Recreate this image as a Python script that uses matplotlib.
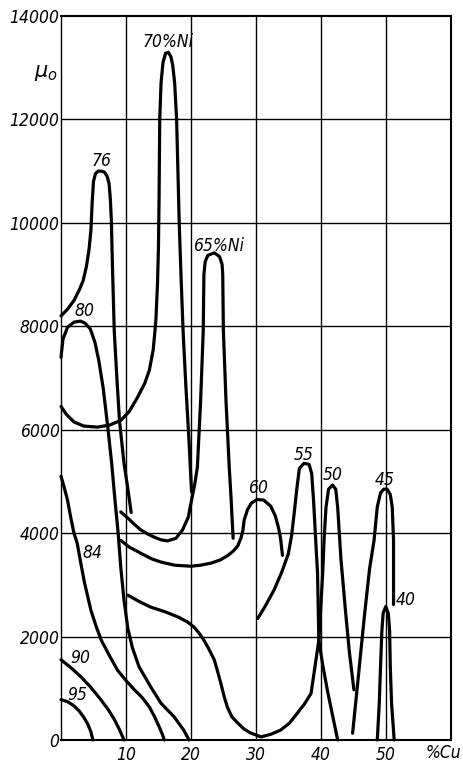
import matplotlib
matplotlib.use("Agg")
import matplotlib.pyplot as plt

# initial permeability mu_0 vs % Cu, one curve per Ni content
cu_95 = [0, 1, 2, 2.8, 3.5, 4.1, 4.6, 4.9]
mu_95 = [780, 740, 660, 560, 440, 310, 160, 0]

cu_90 = [0, 1.5, 3, 4.5, 6, 7.2, 8.2, 9.0, 9.7]
mu_90 = [1550, 1400, 1230, 1030, 800, 600, 400, 200, 0]

cu_84 = [0, 0.5, 1, 1.5, 2, 2.5, 3.0, 3.6, 4.6, 5.4, 6.2, 7.5, 8.7, 10, 11.3, 12.5,
         13.6, 14.4, 15.1, 15.6, 15.9]
mu_84 = [5100, 4880, 4640, 4300, 4000, 3800, 3450, 3050, 2510, 2200, 1930, 1620,
         1350, 1150, 970, 820, 640, 450, 260, 110, 0]

cu_80 = [0, 0.3, 1, 2, 3, 3.7, 4.5, 5.2, 5.8, 6.5, 7.2, 7.8, 8.3, 8.8, 9.2, 9.7,
         10.3, 11.0, 12.0, 13.8, 15.4, 17.4, 18.9, 19.7]
mu_80 = [7400, 7750, 7980, 8080, 8100, 8060, 7950, 7700, 7350, 6800, 6050, 5350,
         4650, 4000, 3340, 2700, 2150, 1780, 1420, 1030, 710, 450, 190, 0]

cu_76 = [0, 1, 2, 2.8, 3.4, 3.9, 4.3, 4.6, 4.8, 5.0, 5.3, 5.7, 6.2, 6.7, 7.1, 7.4,
         7.6, 7.75, 7.95, 8.2, 8.6, 9.0, 9.7, 10.3, 10.8]
mu_76 = [8200, 8330, 8500, 8700, 8880, 9150, 9470, 9850, 10400, 10800, 10950,
         11000, 11000, 10980, 10900, 10760, 10450, 10050, 9020, 7900, 7000, 6180,
         5350, 4850, 4400]

cu_70 = [0, 0.8, 2, 3.5, 5.6, 7.5, 9.2, 10.5, 11.8, 12.9, 13.6, 14.2, 14.6, 14.85,
         15.0, 15.1, 15.2, 15.4, 15.7, 16.1, 16.5, 16.9, 17.2, 17.5, 17.8, 18.0,
         18.2, 18.5, 18.8, 19.2, 19.7, 20.1]
mu_70 = [6450, 6300, 6150, 6070, 6050, 6090, 6180, 6350, 6630, 6900, 7150, 7550,
         8100, 8800, 9500, 10500, 12000, 12700, 13100, 13280, 13300, 13220, 13050,
         12700, 12000, 11000, 10000, 8900, 7900, 6900, 5800, 4800]

cu_65 = [9.2, 10.3, 11.3, 12.3, 13.4, 14.4, 15.4, 16.4, 17.7, 18.7, 19.6, 20.1,
         20.6, 21.0, 21.5, 21.9, 22.0, 22.2, 22.6, 23.6, 24.4, 24.8, 24.9, 25.0,
         25.4, 25.9, 26.2, 26.5]
mu_65 = [4410, 4290, 4170, 4060, 3980, 3920, 3870, 3850, 3900, 4060, 4310, 4640,
         4950, 5280, 6570, 7920, 9000, 9250, 9370, 9420, 9350, 9200, 9000, 7920,
         6570, 5280, 4640, 3900]

cu_60 = [9.2, 10.5, 12.3, 14, 15.4, 17.5, 20, 21.5, 23.1, 24.5, 25.6, 26.5, 27.2,
         27.7, 28.0, 28.2, 28.7, 29.3, 30.2, 31.2, 32.3, 33.0, 33.5, 33.8, 34.1]
mu_60 = [3860, 3730, 3610, 3500, 3440, 3380, 3360, 3380, 3420, 3480, 3560, 3650,
         3750, 3900, 4050, 4250, 4450, 4580, 4650, 4640, 4520, 4330, 4100, 3900, 3570]

cu_55 = [30.3, 31.5, 32.8, 34.0, 35.0, 35.5, 35.9, 36.3, 36.7, 37.4, 38.2, 38.6,
         38.9, 39.2, 39.5, 39.7, 40.3, 41.0, 41.8, 42.6]
mu_55 = [2350, 2600, 2900, 3250, 3600, 3950, 4380, 4850, 5250, 5350, 5330, 5150,
         4600, 3900, 3230, 1930, 1450, 970, 480, 0]

cu_50 = [10.3, 12, 13.8, 16, 18, 19.5, 20.5, 21.3, 22, 22.8, 23.6, 24.1, 24.6, 25.1,
         25.6, 26.3, 27.2, 28.2, 29.2, 30.8, 32.3, 33.8, 35.2, 36.4, 37.5, 38.5,
         39.2, 39.7, 40.0, 40.3, 40.5, 40.8, 41.2, 41.8, 42.3, 42.6, 43.1, 43.8,
         44.4, 45.1]
mu_50 = [2800, 2680, 2570, 2480, 2380, 2280, 2180, 2060, 1930, 1750, 1550, 1330,
         1100, 850, 640, 450, 330, 210, 135, 60, 110, 190, 330, 520, 700, 900,
         1500, 1930, 2580, 3230, 3860, 4500, 4850, 4930, 4850, 4500, 3500, 2500,
         1700, 970]

cu_45 = [44.9, 45.8, 46.7, 47.5, 48.2, 48.7, 49.2, 49.7, 50.2, 50.7, 51.0, 51.2,
         51.2, 51.2]
mu_45 = [130, 1250, 2380, 3300, 3860, 4510, 4780, 4850, 4850, 4750, 4500, 3860,
         3200, 2620]

cu_40 = [48.7, 49.0, 49.2, 49.4, 49.6, 50.0, 50.4, 50.6, 50.7, 50.9, 51.3]
mu_40 = [0, 700, 1420, 2100, 2450, 2580, 2450, 2100, 1420, 700, 0]

curves = [(cu_95, mu_95), (cu_90, mu_90), (cu_84, mu_84), (cu_80, mu_80),
          (cu_76, mu_76), (cu_70, mu_70), (cu_65, mu_65), (cu_60, mu_60),
          (cu_55, mu_55), (cu_50, mu_50), (cu_45, mu_45), (cu_40, mu_40)]

labels = ["95", "90", "84", "80", "76", "70%Ni", "65%Ni", "60", "55", "50", "45", "40"]
label_xy = [(2.5, 870), (2.9, 1580), (4.8, 3610), (3.6, 8290), (6.2, 11200),
            (16.5, 13490), (24.2, 9560), (30.4, 4870), (37.3, 5510), (41.9, 5120),
            (49.9, 5020), (53.0, 2700)]

x_ticks = [10, 20, 30, 40, 50]
y_ticks = [0, 2000, 4000, 6000, 8000, 10000, 12000, 14000]

fnt = dict(family='DejaVu Sans', style='italic', stretch='condensed')

fig = plt.figure(figsize=(4.64, 7.65), dpi=100)
ax = fig.add_axes([0.1315, 0.0327, 0.8398, 0.9464])
ax.set_xlim(0, 60)
ax.set_ylim(0, 14000)

for x in x_ticks:
    ax.axvline(x, color='black', lw=1.0, zorder=1)
for y in y_ticks[1:-1]:
    ax.axhline(y, color='black', lw=1.0, zorder=1)

for cu, mu in curves:
    ax.plot(cu, mu, color='black', lw=2.3, solid_joinstyle='round',
            solid_capstyle='round', zorder=3, clip_on=False)

for txt, (tx, ty) in zip(labels, label_xy):
    ax.text(tx, ty, txt, ha='center', va='center', fontsize=12.5, zorder=4, **fnt)

ax.set_xticks(x_ticks)
ax.set_xticklabels([str(v) for v in x_ticks], fontsize=12.5, **fnt)
ax.set_yticks(y_ticks)
ax.set_yticklabels([str(v) for v in y_ticks], fontsize=12.5, **fnt)
ax.tick_params(length=0, pad=1)
ax.tick_params(axis='x', pad=4)

ax.text(58.9, -250, "%Cu", ha='center', va='center', fontsize=12.5, clip_on=False, **fnt)
ax.text(-2.3, 12890, r"$\mu_o$", ha='center', va='center', fontsize=15, clip_on=False)

for side in ['top', 'right', 'bottom']:
    ax.spines[side].set_linewidth(1.5)
ax.spines['left'].set_linewidth(1.0)

fig.savefig("out.png", dpi=100)
